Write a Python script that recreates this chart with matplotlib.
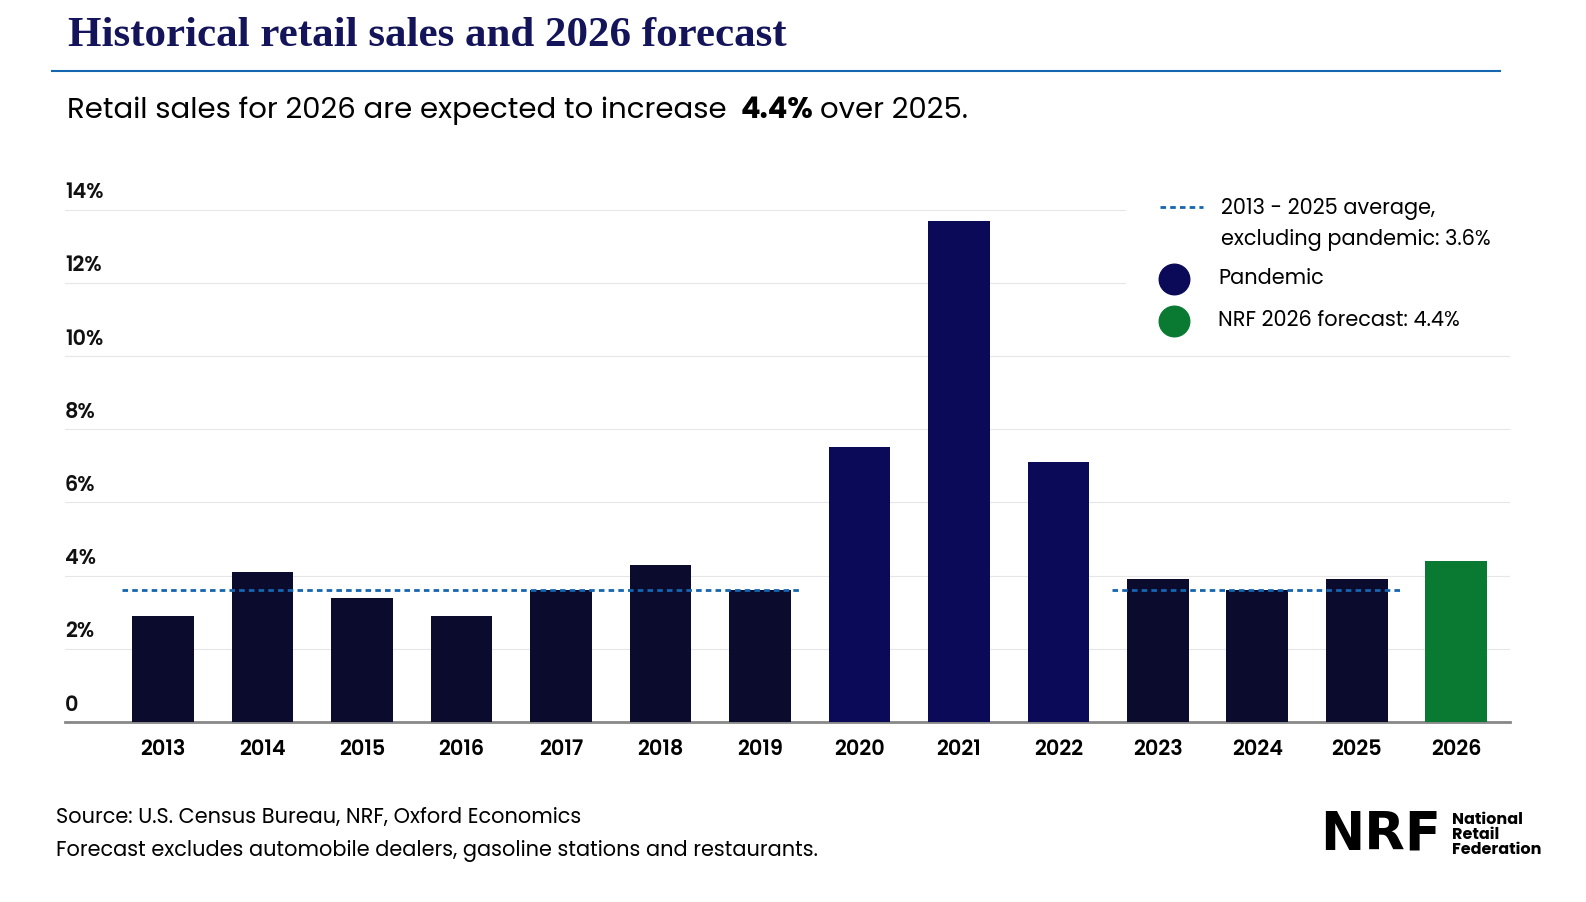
import matplotlib
matplotlib.use("Agg")
import matplotlib.pyplot as plt
from matplotlib.lines import Line2D

years = [str(y) for y in range(2013, 2027)]
values = [2.9, 4.1, 3.4, 2.9, 3.6, 4.3, 3.6, 7.5, 13.7, 7.1, 3.9, 3.6, 3.9, 4.4]
kinds = ["n"]*7 + ["p"]*3 + ["n"]*3 + ["f"]
avg = 3.6
yticks = [0, 2, 4, 6, 8, 10, 12, 14]
ylabels = ["0", "2%", "4%", "6%", "8%", "10%", "12%", "14%"]
colmap = {"n": "#0b0b2e", "p": "#0a0a58", "f": "#0a7a32"}

plt.rcParams['font.family'] = ['Poppins', 'Inter', 'DejaVu Sans']
W, H = 1586, 902
fig = plt.figure(figsize=(W/100, H/100), dpi=100)
ax = fig.add_axes([65/W, 1-722/H, (1510-65)/W, (722-190)/H])
x = list(range(len(years)))
ax.bar(x, values, width=0.62, color=[colmap[k] for k in kinds], zorder=3)
ax.set_xlim(-0.985, 13.54)
ax.set_ylim(0, (722-190)/36.6)
for t in yticks[1:]:
    xmax = (1125-65)/(1510-65) if t >= 12 else 1
    ax.axhline(t, xmin=0, xmax=xmax, color="#e6e6e6", lw=0.8, zorder=1)
for t, l in zip(yticks, ylabels):
    ax.text(-0.985, t + 0.45, l, fontsize=15, va="center", ha="left", color="#111", fontweight="semibold")
ax.set_yticks([])
ax.set_xticks(x)
ax.set_xticklabels(years, fontsize=15, fontweight="semibold")
ax.tick_params(axis="x", length=0, pad=12)
for s in ["top", "right", "left"]:
    ax.spines[s].set_visible(False)
ax.spines["bottom"].set_color("#888")
ax.spines["bottom"].set_linewidth(2)
lc = "#1565b0"
ax.plot([-0.41, 6.4], [avg, avg], ls=(0, (2, 1.5)), color=lc, lw=2, zorder=4)
ax.plot([9.54, 12.43], [avg, avg], ls=(0, (2, 1.5)), color=lc, lw=2, zorder=4)

# legend
fig.add_artist(Line2D([1160/W, 1203/W], [1-207/H]*2, ls=(0, (2, 1.5)), color=lc, lw=2))
fig.text(1221/W, 1-209/H, "2013 - 2025 average,", fontsize=15, va="center")
fig.text(1221/W, 1-240/H, "excluding pandemic: 3.6%", fontsize=15, va="center")
fig.add_artist(Line2D([1174/W], [1-279/H], marker="o", ms=22, color=colmap["p"], lw=0))
fig.text(1218/W, 1-279/H, "Pandemic", fontsize=15, va="center")
fig.add_artist(Line2D([1174/W], [1-321/H], marker="o", ms=22, color=colmap["f"], lw=0))
fig.text(1218/W, 1-321/H, "NRF 2026 forecast: 4.4%", fontsize=15, va="center")

fig.text(68/W, 1-36/H, "Historical retail sales and 2026 forecast", family="Liberation Serif",
         fontsize=31, fontweight="bold", color="#14145a", va="center")
fig.add_artist(Line2D([52/W, 1500/W], [1-71/H]*2, color=lc, lw=1.5))
fig.canvas.draw()
r = fig.canvas.get_renderer()
t1 = fig.text(67/W, 1-111/H, "Retail sales for 2026 are expected to increase ", fontsize=21, va="center")
x1 = t1.get_window_extent(r).x1 + 6
t2 = fig.text(x1/W, 1-111/H, "4.4%", fontsize=21, fontweight="bold", va="center")
x2 = t2.get_window_extent(r).x1 + 7
fig.text(x2/W, 1-111/H, "over 2025.", fontsize=21, va="center")
fig.text(56/W, 1-818/H, "Source: U.S. Census Bureau, NRF, Oxford Economics", fontsize=15, va="center")
fig.text(56/W, 1-851/H, "Forecast excludes automobile dealers, gasoline stations and restaurants.", fontsize=15, va="center")
fig.text(1320/W, 1-835/H, "NRF", fontsize=38, fontweight="black", va="center", family="DejaVu Sans")
fig.text(1452/W, 1-835/H, "National\nRetail\nFederation", fontsize=11.5, fontweight="bold",
         va="center", linespacing=0.9)
fig.savefig("out.png", dpi=100)
